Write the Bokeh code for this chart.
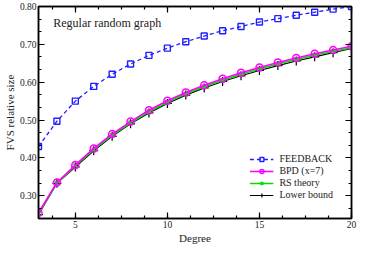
from bokeh.plotting import figure
from bokeh.models import (LinearAxis, FixedTicker, Range1d, Label, Legend, LegendItem,
                          CustomJSTickFormatter)
from bokeh.embed import file_html
from bokeh.resources import INLINE

degree = list(range(3, 21))
feedback = [0.430, 0.497, 0.550, 0.589, 0.621, 0.648, 0.671, 0.690, 0.707, 0.722,
            0.736, 0.747, 0.759, 0.768, 0.777, 0.785, 0.793, 0.800]
bpd = [0.255, 0.335, 0.381, 0.425, 0.463, 0.496, 0.526, 0.551, 0.573, 0.592,
       0.609, 0.625, 0.639, 0.652, 0.664, 0.675, 0.685, 0.695]
rs_theory = [0.252, 0.333, 0.379, 0.422, 0.460, 0.493, 0.522, 0.547, 0.569, 0.588,
             0.605, 0.621, 0.635, 0.648, 0.660, 0.671, 0.681, 0.691]
lower_bound = [0.250, 0.333, 0.376, 0.419, 0.457, 0.490, 0.519, 0.544, 0.566, 0.585,
               0.602, 0.617, 0.631, 0.644, 0.656, 0.667, 0.678, 0.689]

x_major = [5, 10, 15, 20]
x_minor = [3.75 + 1.25 * i for i in range(14)]
y_major = [0.3, 0.4, 0.5, 0.6, 0.7, 0.8]
y_minor = [0.3 - 0.1 / 3] + [0.3 + i * 0.1 / 3 for i in range(16)]

FONT = "Liberation Serif"

p = figure(width=358, height=246, output_backend="svg", toolbar_location=None,
           x_range=Range1d(3, 20), y_range=Range1d(0.24, 0.80),
           min_border_left=2, min_border_right=7, min_border_top=6, min_border_bottom=1)
p.grid.visible = False
p.outline_line_color = "black"
p.outline_line_width = 1.5

for ax in (p.xaxis[0], p.yaxis[0]):
    ax.axis_line_width = 1.5
    ax.major_tick_in = 6
    ax.major_tick_out = 0
    ax.minor_tick_in = 3
    ax.minor_tick_out = 0
    ax.major_tick_line_width = 1.2
    ax.minor_tick_line_width = 1.2
    ax.major_label_text_font = FONT
    ax.major_label_text_font_size = "9.5px"
    ax.major_label_text_color = "#222222"
    ax.axis_label_text_font = FONT
    ax.axis_label_text_font_size = "11px"
    ax.axis_label_text_font_style = "normal"
    ax.axis_label_text_color = "#222222"
    ax.major_label_standoff = 2
    ax.axis_label_standoff = 1

p.xaxis[0].ticker = FixedTicker(ticks=x_major, minor_ticks=x_minor)
p.yaxis[0].ticker = FixedTicker(ticks=y_major, minor_ticks=y_minor)
p.xaxis[0].axis_label = "Degree"
p.yaxis[0].axis_label = "FVS relative size"
p.yaxis[0].formatter = CustomJSTickFormatter(code="return tick.toFixed(2);")

blank = CustomJSTickFormatter(code="return '';")
top = LinearAxis(ticker=FixedTicker(ticks=x_major, minor_ticks=x_minor), formatter=blank)
right = LinearAxis(ticker=FixedTicker(ticks=y_major, minor_ticks=y_minor), formatter=blank)
for ax in (top, right):
    ax.axis_line_width = 1.5
    ax.major_tick_in = 6
    ax.major_tick_out = 0
    ax.minor_tick_in = 3
    ax.minor_tick_out = 0
    ax.major_tick_line_width = 1.2
    ax.minor_tick_line_width = 1.2
    ax.major_label_text_font_size = "0px"
    ax.major_label_standoff = 0
p.add_layout(top, "above")
p.add_layout(right, "right")

fb_line = p.line(degree, feedback, line_color="#2020ff", line_width=1.3, line_dash="4 3")
fb_mark = p.scatter(degree, feedback, marker="square", size=6, fill_color="white",
                    fill_alpha=0, line_color="#2020ff", line_width=1.4)

lb_line = p.line(degree, lower_bound, line_color="black", line_width=1.2)
lb_mark = p.scatter(degree, lower_bound, marker="cross", size=9, line_color="black", line_width=1.2)

rs_line = p.line(degree, rs_theory, line_color="#00e000", line_width=1.6)
rs_mark = p.scatter(degree, rs_theory, marker="x", size=6, line_color="#00e000", line_width=1.6)

bpd_line = p.line(degree, bpd, line_color="#ff00ff", line_width=1.6)
bpd_mark = p.scatter(degree, bpd, marker="circle", size=7, fill_alpha=0,
                     line_color="#ff00ff", line_width=1.5)

p.add_layout(Label(x=3.8, y=0.757, text="Regular random graph", text_font=FONT,
                   text_font_size="12px", text_baseline="middle", text_color="#222222"))

legend = Legend(items=[
    LegendItem(label="FEEDBACK", renderers=[fb_line, fb_mark]),
    LegendItem(label="BPD (x=7)", renderers=[bpd_line, bpd_mark]),
    LegendItem(label="RS theory", renderers=[rs_line, rs_mark]),
    LegendItem(label="Lower bound", renderers=[lb_line, lb_mark]),
], location="bottom_right")
legend.border_line_alpha = 0
legend.background_fill_alpha = 0
legend.label_text_font = FONT
legend.label_text_font_size = "10px"
legend.label_text_color = "#222222"
legend.glyph_width = 24
legend.glyph_height = 10
legend.label_height = 10
legend.spacing = 1
legend.padding = 2
legend.margin = 16
legend.label_standoff = 6
p.add_layout(legend)

open("out.html", "w").write(file_html(p, INLINE))
